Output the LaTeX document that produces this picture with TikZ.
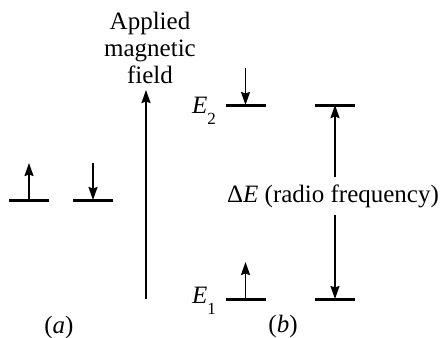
\documentclass[tikz,border=0pt]{standalone}
\usepackage{fontspec}
\setmainfont{Liberation Serif}
\usetikzlibrary{arrows.meta}
\newcommand{\Esub}[1]{\textit{E}\raisebox{-11pt}{\fontsize{17}{17}\selectfont #1}}
\begin{document}
\begin{tikzpicture}[x=1pt, y=-1pt, >={Stealth[length=13pt, width=9pt, inset=1.5pt]},
  font=\fontsize{25}{27}\selectfont,
  level/.style={line width=3pt},
  spin/.style={->, line width=1.8pt}]
\useasboundingbox (0,0) rectangle (448,338);
\coordinate (A1) at (29,200); \coordinate (A2) at (93,200);
\coordinate (L2) at (245.5,105); \coordinate (R2) at (335,105);
\coordinate (L1) at (245.5,299); \coordinate (R1) at (335,299);
\coordinate (F0) at (146,299); \coordinate (F1) at (146,90);
\foreach \p in {A1, A2, L2, R2, L1, R1} {
\draw[level] ([xshift=-20pt]\p) -- ([xshift=20pt]\p);}
% spins: up from the level, down onto the level
\foreach \p in {A1, L1} {\draw[spin] (\p) -- ([yshift=37pt]\p);}
\foreach \p in {A2, L2} {\draw[spin] ([yshift=37pt]\p) -- (\p);}
\node[anchor=north, align=center, inner sep=0pt] (field) at (150,12) {Applied\\magnetic\\field};
\draw[spin] (F0) -- (F1);
\node[anchor=base east, inner sep=0pt] (E2) at (216,113) {\Esub{2}};
\node[anchor=base east, inner sep=0pt] (E1) at (216,303) {\Esub{1}};
\node[inner sep=7.5pt] (dE) at (333,196) {Δ\textit{E} (radio frequency)};
\draw[spin] (dE.north -| R2) -- (R2);
\draw[spin] (dE.south -| R1) -- (R1);
\node (a) at (59,327) {(\textit{a})};
\node (b) at (283,326) {(\textit{b})};
\end{tikzpicture}
\end{document}
